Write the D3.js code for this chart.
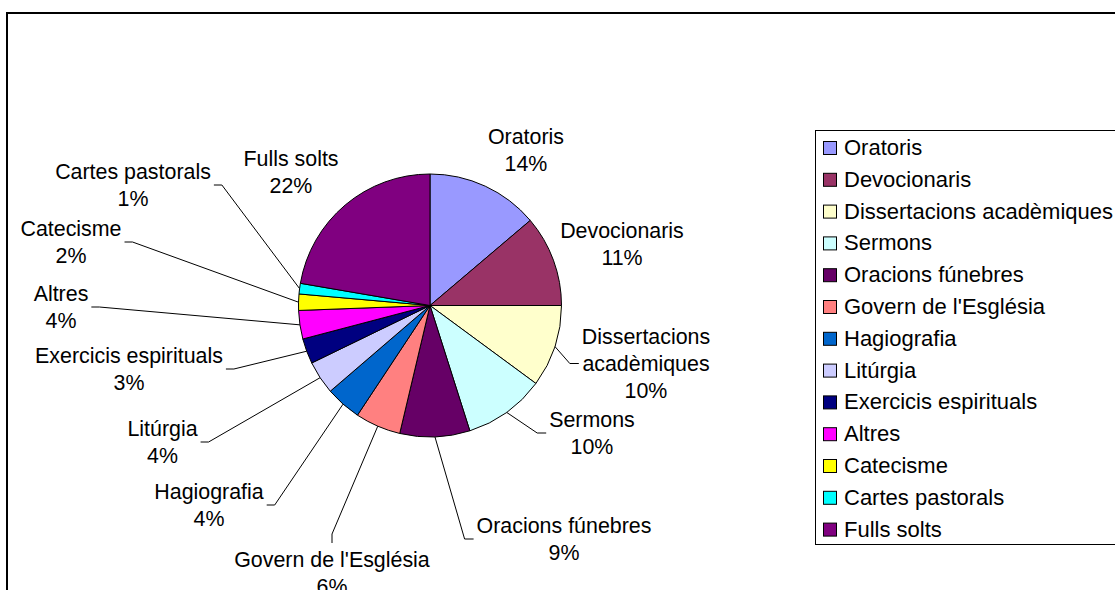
<!DOCTYPE html>
<html>
<head>
<meta charset="utf-8">
<script src="https://cdn.jsdelivr.net/npm/d3@7"></script>
<style>
  html, body { margin: 0; padding: 0; background: #fff; }
  svg { display: block; }
  text { font-family: "Liberation Sans", Arial, sans-serif; fill: #000; }
</style>
</head>
<body>
<svg id="chart" width="1115" height="590"></svg>
<script>
// ---- data ----
const categories = [
  "Oratoris", "Devocionaris", "Dissertacions acadèmiques", "Sermons",
  "Oracions fúnebres", "Govern de l'Església", "Hagiografia", "Litúrgia",
  "Exercicis espirituals", "Altres", "Catecisme", "Cartes pastorals", "Fulls solts"
];
const values = [13.8, 11.2, 10.1, 10.0, 8.6, 5.6, 4.4, 4.1, 3.1, 3.5, 2.0, 1.3, 22.3];
const colors = [
  "#9999FF", "#993366", "#FFFFCC", "#CCFFFF", "#660066", "#FF8080", "#0066CC",
  "#CCCCFF", "#000080", "#FF00FF", "#FFFF00", "#00FFFF", "#800080"
];
// label text lines (category name split as in the picture)
const labelLines = [
  ["Oratoris"], ["Devocionaris"], ["Dissertacions", "acadèmiques"], ["Sermons"],
  ["Oracions fúnebres"], ["Govern de l'Església"], ["Hagiografia"], ["Litúrgia"],
  ["Exercicis espirituals"], ["Altres"], ["Catecisme"], ["Cartes pastorals"], ["Fulls solts"]
];

// ---- layout ----
const W = 1115, H = 590;
const cx = 430, cy = 305.5, R = 131.5;
const labelFont = 21.4, legendFont = 22, lineH = 27;
// label placement: center x, first baseline y, leader side
const labelPos = [
  {x: 526, y: 144, side: "none"},
  {x: 622, y: 238, side: "none"},
  {x: 646, y: 344, side: "right"},
  {x: 592, y: 427, side: "right"},
  {x: 564, y: 533, side: "right"},
  {x: 332, y: 567, side: "below"},
  {x: 209, y: 499, side: "left"},
  {x: 162.5, y: 436, side: "left"},
  {x: 129, y: 363, side: "left"},
  {x: 61, y: 301, side: "left"},
  {x: 71, y: 236, side: "left"},
  {x: 133, y: 179, side: "left"},
  {x: 291, y: 166, side: "none"}
];

const svg = d3.select("#chart");
svg.append("rect").attr("width", W).attr("height", H).attr("fill", "#fff");

// outer chart frame
svg.append("rect")
  .attr("x", 7).attr("y", 13).attr("width", 1200).attr("height", 700)
  .attr("fill", "none").attr("stroke", "#000").attr("stroke-width", 2);

const total = d3.sum(values);
const pie = d3.pie().sort(null).value(d => d).startAngle(0).endAngle(2 * Math.PI);
const arcs = pie(values);
const arc = d3.arc().innerRadius(0).outerRadius(R);
const edgeArc = d3.arc().innerRadius(R).outerRadius(R);

const g = svg.append("g").attr("transform", `translate(${cx},${cy})`);
g.selectAll("path.slice")
  .data(arcs)
  .join("path")
  .attr("class", "slice")
  .attr("d", arc)
  .attr("fill", (d, i) => colors[i])
  .attr("stroke", "#000")
  .attr("stroke-width", 1)
  .attr("stroke-linejoin", "round");

// labels
const labelsG = svg.append("g");
const leadersG = svg.append("g");
arcs.forEach((d, i) => {
  const p = labelPos[i];
  const lines = labelLines[i].concat([Math.round(values[i] / total * 100) + "%"]);
  const t = labelsG.append("text")
    .attr("text-anchor", "middle")
    .style("font-size", labelFont + "px");
  lines.forEach((ln, k) => {
    t.append("tspan").attr("x", p.x).attr("y", p.y + k * lineH).text(ln);
  });
  let maxW = 0;
  t.selectAll("tspan").each(function () {
    maxW = Math.max(maxW, this.getComputedTextLength());
  });
  if (p.side === "none") return;
  const c = edgeArc.centroid(d);
  const sx = cx + c[0], sy = cy + c[1];
  const lastBase = p.y + (lines.length - 1) * lineH;
  const midY = (p.y - 17 + lastBase + 2) / 2;
  let pts;
  if (p.side === "left") {
    const ex = p.x + maxW / 2 + 3;
    pts = [[sx, sy], [ex + 8, midY], [ex, midY]];
  } else if (p.side === "right") {
    const ex = p.x - maxW / 2 - 3;
    pts = [[sx, sy], [ex - 9, midY], [ex, midY]];
  } else {
    const ey = p.y - 24;
    pts = [[sx, sy], [p.x, ey - 9], [p.x, ey]];
  }
  leadersG.append("path")
    .attr("d", d3.line()(pts))
    .attr("fill", "none")
    .attr("stroke", "#000")
    .attr("stroke-width", 1);
});

// legend
const lg = svg.append("g");
lg.append("rect")
  .attr("x", 815.5).attr("y", 130.5).attr("width", 400).attr("height", 414)
  .attr("fill", "#fff").attr("stroke", "#000").attr("stroke-width", 1);
const rowH = 31.8, firstBase = 155;
categories.forEach((name, i) => {
  const by = firstBase + i * rowH;
  lg.append("rect")
    .attr("x", 823.5).attr("y", by - 13.5).attr("width", 13).attr("height", 13)
    .attr("fill", colors[i]).attr("stroke", "#000").attr("stroke-width", 1);
  lg.append("text")
    .attr("x", 844).attr("y", by)
    .style("font-size", legendFont + "px")
    .text(name);
});
</script>
</body>
</html>
